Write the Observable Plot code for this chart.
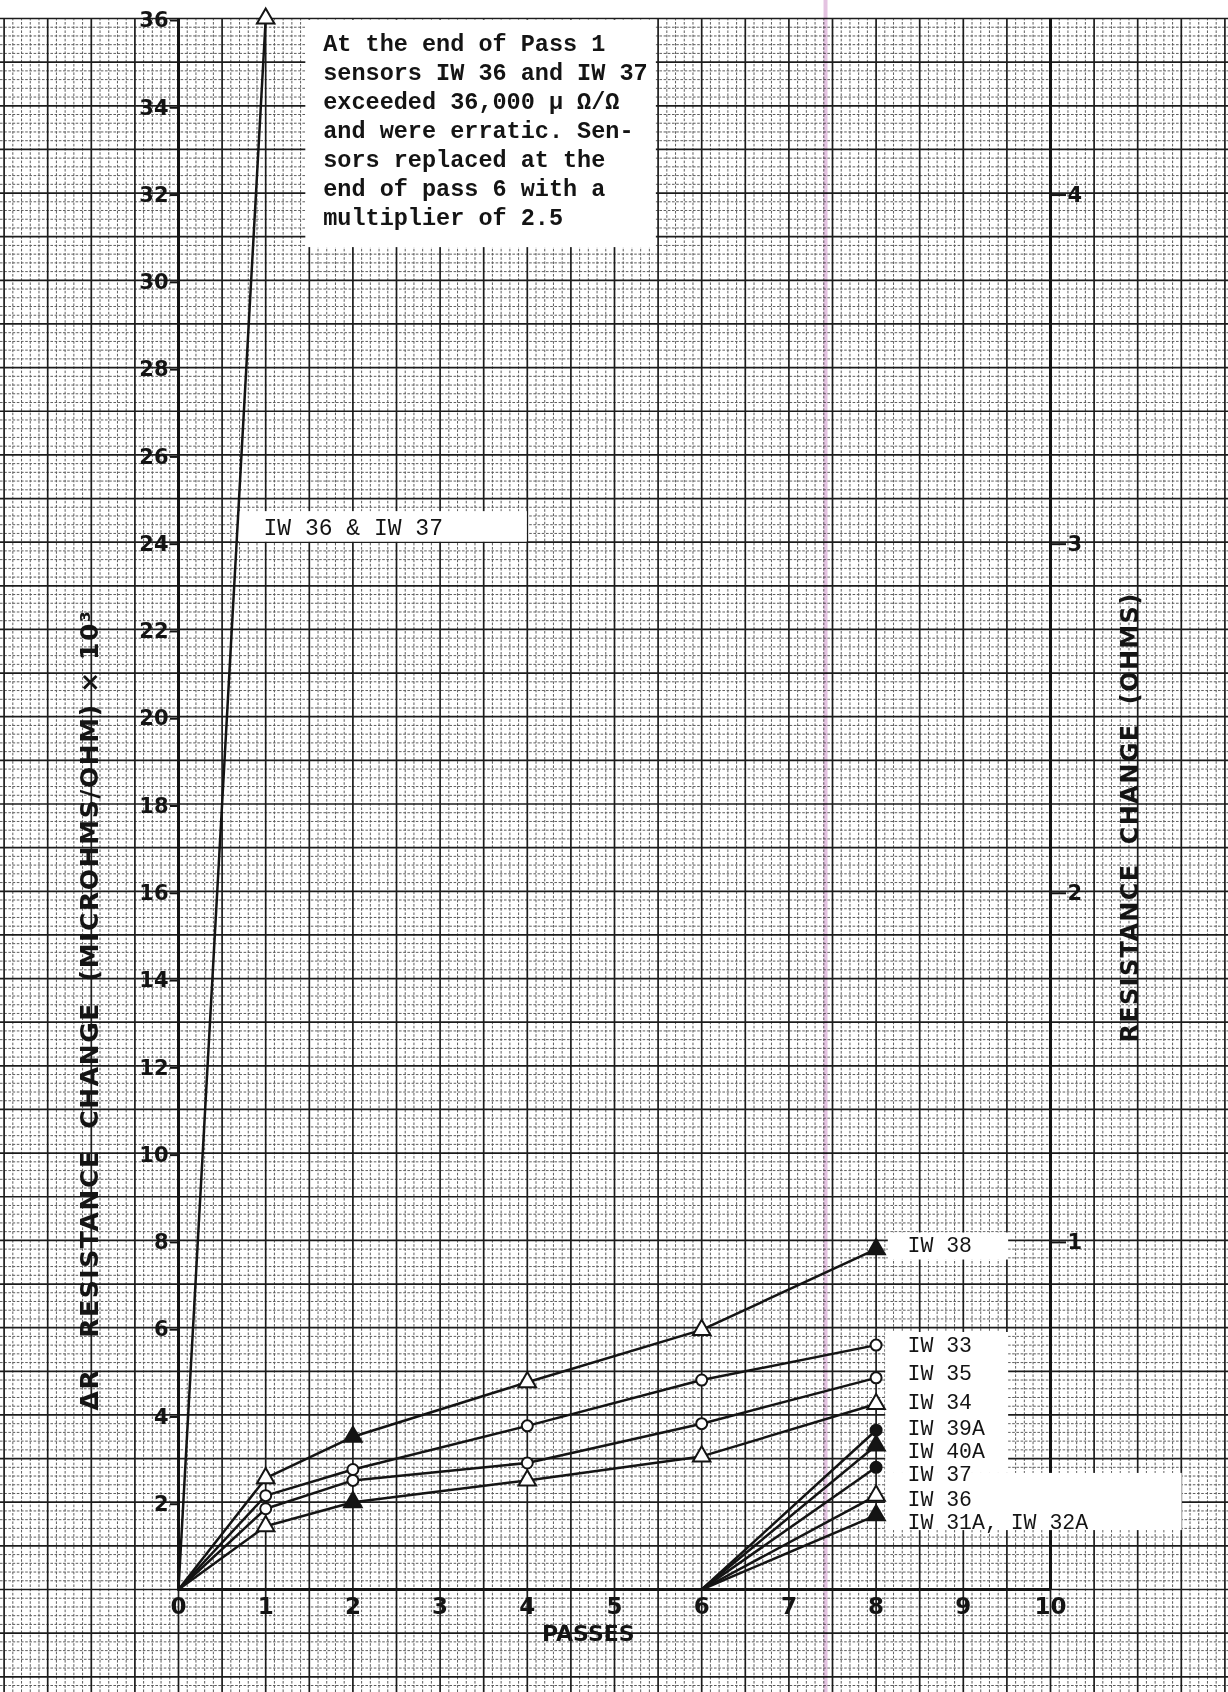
<!DOCTYPE html>
<html>
<head>
<meta charset="utf-8">
<script src="https://cdn.jsdelivr.net/npm/d3@7"></script>
<script src="https://cdn.jsdelivr.net/npm/@observablehq/plot@0.6"></script>
<style>
  html, body { margin: 0; padding: 0; background: #fff; }
  #chart svg { display: block; }
</style>
</head>
<body>
<div id="chart"></div>
<script>
// ---- Readings: resistance change, microhms/ohm x 10^3 ----
// First sensor group, read at each pass
const passes = [0, 1, 2, 4, 6, 8];
const iw38 = [0, 2.55, 3.5, 4.75, 5.95, 7.8];
const iw33 = [0, 2.15, 2.75, 3.75, 4.8, 5.6];
const iw35 = [0, 1.85, 2.5, 2.9, 3.8, 4.85];
const iw34 = [0, 1.45, 2.0, 2.5, 3.05, 4.25];

// Original IW 36 / IW 37 sensors (off scale after pass 1)
const firstPass = [0, 1];
const iw36iw37 = [0, 36];

// Replacement sensors, installed at the end of pass 6
const replacementPasses = [6, 8];
const iw39A = [0, 3.65];
const iw40A = [0, 3.3];
const iw37 = [0, 2.8];
const iw36 = [0, 2.15];
const iw31A32A = [0, 1.7];

// ---- Tick labels ----
const passTicks = [0, 1, 2, 3, 4, 5, 6, 7, 8, 9, 10];
const microTicks = [2, 4, 6, 8, 10, 12, 14, 16, 18, 20, 22, 24, 26, 28, 30, 32, 34, 36];
const ohmTicks = [1, 2, 3, 4];
const unitsPerOhm = 8;

// ---- Series table built from the arrays above ----
const series = [
  {name: "IW 36 & IW 37", x: firstPass, y: iw36iw37, symbol: "triangle"},
  {name: "IW 38", x: passes, y: iw38, symbol: "triangle"},
  {name: "IW 33", x: passes, y: iw33, symbol: "circle"},
  {name: "IW 35", x: passes, y: iw35, symbol: "circle"},
  {name: "IW 34", x: passes, y: iw34, symbol: "triangle"},
  {name: "IW 39A", x: replacementPasses, y: iw39A, symbol: "circle"},
  {name: "IW 40A", x: replacementPasses, y: iw40A, symbol: "triangle"},
  {name: "IW 37", x: replacementPasses, y: iw37, symbol: "circle"},
  {name: "IW 36", x: replacementPasses, y: iw36, symbol: "triangle"},
  {name: "IW 31A, IW 32A", x: replacementPasses, y: iw31A32A, symbol: "triangle"}
];
// points plotted with a solid (inked) marker
const solidMarkers = new Set(["IW 38@2", "IW 38@8", "IW 34@2", "IW 39A@8", "IW 40A@8", "IW 37@8", "IW 31A, IW 32A@8"]);

const rows = series.flatMap(s => s.x.map((p, i) => ({name: s.name, pass: p, value: s.y[i], symbol: s.symbol})));
const markers = rows.filter(d => d.value > 0).map(d => ({...d, solid: solidMarkers.has(d.name + "@" + d.pass)}));

// ---- Page layout ----
const W = 1228, H = 1692;
const M = {top: 18, right: 178, bottom: 103, left: 178};
const kx = (W - M.left - M.right) / 10;   // px per pass
const ky = (H - M.top - M.bottom) / 36;   // px per unit
const xLo = -M.left / kx, xHi = 10 + M.right / kx;
const yLo = -M.bottom / ky, yTop = 36 + M.top / ky;

// chart-paper grid: fine rules every 0.1 pass / 0.2 unit, heavy every 0.5 pass / 1 unit
const fineX = d3.range(Math.ceil(xLo * 10), Math.floor(xHi * 10) + 1).filter(i => i % 5 !== 0).map(i => i / 10);
const heavyX = d3.range(Math.ceil(xLo * 2), Math.floor(xHi * 2) + 1).map(i => i / 2);
const fineY = d3.range(Math.ceil(yLo * 5), 181).filter(i => i % 5 !== 0).map(i => i / 5);
const heavyY = d3.range(Math.ceil(yLo), 37);

// white paste-over panels behind the typed labels
const panels = [
  {x1: 1.46, x2: 5.48, y1: 30.75, y2: 35.96},
  {x1: 0.70, x2: 4.0, y1: 24.0, y2: 24.7},
  {x1: 8.14, x2: 9.52, y1: 7.55, y2: 8.17},
  {x1: 8.11, x2: 9.52, y1: 2.66, y2: 5.89},
  {x1: 8.11, x2: 11.51, y1: 1.35, y2: 2.66}
];

// legend labels typed beside the pass-8 readings
const legendNames = ["IW 38", "IW 33", "IW 35", "IW 34", "IW 39A", "IW 40A", "IW 37", "IW 36", "IW 31A, IW 32A"];
const legendY = [7.89, 5.6, 4.95, 4.29, 3.69, 3.17, 2.65, 2.08, 1.54];
const legend = legendNames.map((t, i) => ({text: t, y: legendY[i]}));

const note = [
  "At the end of Pass 1",
  "sensors IW 36 and IW 37",
  "exceeded 36,000 \u03bc \u03a9/\u03a9",
  "and were erratic. Sen-",
  "sors replaced at the",
  "end of pass 6 with a",
  "multiplier of 2.5"
].join("\n");

const leftTitle = "\u0394R   RESISTANCE  CHANGE  (MICROHMS/OHM) \u00d7 10\u00b3";
const rightTitle = "RESISTANCE  CHANGE  (OHMS)";

const INK = "#141414";
const SANS = "'DejaVu Sans', 'Liberation Sans', sans-serif";
const MONO = "'Liberation Mono', 'DejaVu Sans Mono', monospace";

const chart = Plot.plot({
  width: W,
  height: H,
  marginTop: M.top,
  marginRight: M.right,
  marginBottom: M.bottom,
  marginLeft: M.left,
  x: {domain: [0, 10]},
  y: {domain: [0, 36]},
  style: {background: "white", color: INK, fontFamily: SANS},
  marks: [
    // paper grid
    Plot.ruleX(fineX, {x: d => d, y1: yLo, y2: 36, stroke: "#5e5e5e", strokeWidth: 1, strokeDasharray: "2.6,1.6"}),
    Plot.ruleY(fineY, {y: d => d, x1: xLo, x2: xHi, stroke: "#5e5e5e", strokeWidth: 1, strokeDasharray: "2.6,1.6"}),
    Plot.ruleX(heavyX, {x: d => d, y1: yLo, y2: 36, stroke: "#1c1c1c", strokeWidth: 1.7}),
    Plot.ruleY(heavyY, {y: d => d, x1: xLo, x2: xHi, stroke: "#1c1c1c", strokeWidth: 1.7}),
    // red register line printed on the paper
    Plot.ruleX([7.42], {x: d => d, y1: yLo, y2: yTop, stroke: "#d9a9d4", strokeWidth: 4, strokeOpacity: 0.7, mixBlendMode: "multiply"}),
    // plotting frame
    Plot.ruleX([0, 10], {x: d => d, y1: 0, y2: 36, stroke: INK, strokeWidth: 3}),
    Plot.ruleY([0], {y: d => d, x1: 0, x2: 10, stroke: INK, strokeWidth: 3}),
    // label panels
    Plot.rect(panels, {x1: "x1", x2: "x2", y1: "y1", y2: "y2", fill: "white"}),
    // axes
    Plot.axisY(microTicks, {anchor: "left", tickSize: 8, tickPadding: 2, dy: 2, fontSize: 21, fontWeight: "bold", fontFamily: SANS, strokeWidth: 2, label: null}),
    Plot.axisY(ohmTicks.map(o => o * unitsPerOhm), {anchor: "right", tickFormat: d => String(d / unitsPerOhm), tickSize: 15, tickPadding: 2, dy: 2, fontSize: 21, fontWeight: "bold", fontFamily: SANS, strokeWidth: 2, label: null}),
    Plot.axisX(passTicks, {anchor: "bottom", tickSize: 0, tickPadding: 8, fontSize: 23, fontWeight: "bold", fontFamily: SANS, label: null}),
    // readings
    Plot.line(rows, {x: "pass", y: "value", z: "name", stroke: INK, strokeWidth: 2.5}),
    Plot.dot(markers.filter(d => d.symbol === "triangle"), {x: "pass", y: "value", symbol: "triangle", r: 6.5, stroke: INK, strokeWidth: 2, fill: d => d.solid ? INK : "white"}),
    Plot.dot(markers.filter(d => d.symbol === "circle"), {x: "pass", y: "value", symbol: "circle", r: 5.5, stroke: INK, strokeWidth: 2, fill: d => d.solid ? INK : "white"}),
    // typed labels
    Plot.text([note], {x: 1.66, y: 35.72, text: d => d, textAnchor: "start", lineAnchor: "top", lineHeight: 1.235, fontFamily: MONO, fontWeight: "bold", fontSize: 23.5, fill: INK}),
    Plot.text(["IW 36 & IW 37"], {x: 0.975, y: 24.33, text: d => d, textAnchor: "start", lineAnchor: "middle", fontFamily: MONO, fontSize: 23, fill: INK}),
    Plot.text(legend, {x: 8.36, y: "y", text: "text", textAnchor: "start", lineAnchor: "middle", fontFamily: MONO, fontSize: 21.5, fill: INK}),
    // axis titles
    Plot.text(["PASSES"], {x: 4.7, y: -1.01, text: d => d, fontFamily: SANS, fontWeight: "bold", fontSize: 22, fill: INK}),
    Plot.text([leftTitle], {x: -1.01, y: 13.28, text: d => d, rotate: -90, fontFamily: SANS, fontWeight: "bold", fontSize: 25, fill: INK}),
    Plot.text([rightTitle], {x: 10.92, y: 17.69, text: d => d, rotate: -90, fontFamily: SANS, fontWeight: "bold", fontSize: 24, fill: INK})
  ]
});

// spread the lettering of the two rotated axis titles
const spacing = new Map([[leftTitle, "1.6"], [rightTitle, "1.35"]]);
chart.querySelectorAll("text").forEach(t => {
  if (spacing.has(t.textContent)) t.setAttribute("letter-spacing", spacing.get(t.textContent));
});
document.getElementById("chart").appendChild(chart);
</script>
</body>
</html>
